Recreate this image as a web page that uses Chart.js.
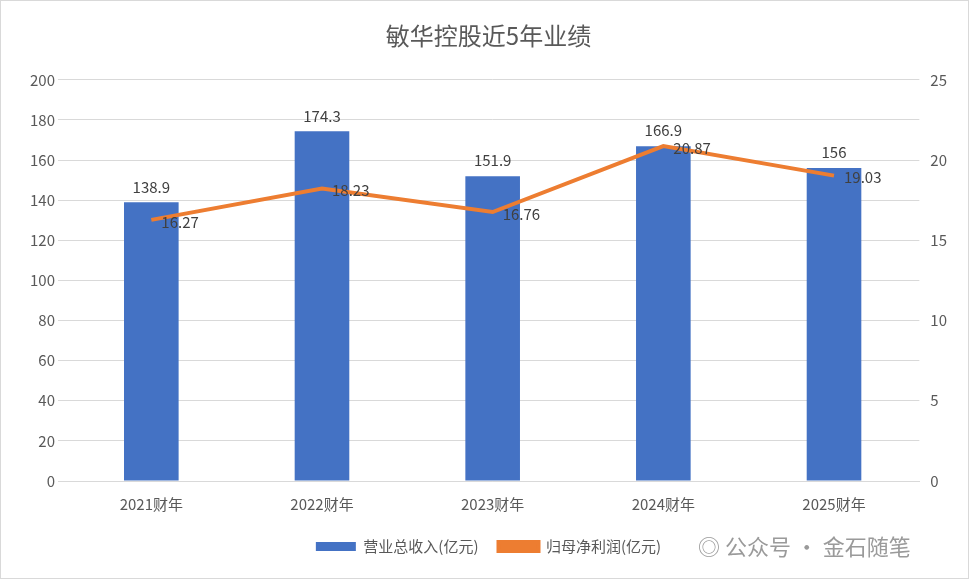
<!DOCTYPE html>
<html><head><meta charset="utf-8">
<script src="https://cdn.jsdelivr.net/npm/chart.js@4"></script>
<style>
html,body{margin:0;padding:0;background:#fff;}
#wrap{position:relative;width:967px;height:577px;border:1px solid #d9d9d9;}
#wm{position:absolute;left:697px;top:528px;font:22px "Noto Sans CJK SC";color:#9a9a9a;}
</style></head><body>
<div id="wrap"><canvas id="c" width="967" height="577"></canvas><div id="wm">◎ 公众号 · 金石随笔</div></div>
<script>
const categories=['2021财年','2022财年','2023财年','2024财年','2025财年'];
const revenue=[138.9,174.3,151.9,166.9,156];
const profit=[16.27,18.23,16.76,20.87,19.03];
const revenueLabels=['138.9','174.3','151.9','166.9','156'];
const profitLabels=['16.27','18.23','16.76','20.87','19.03'];
const F='"Noto Sans CJK SC","Noto Sans",sans-serif';
const labelPlugin={id:'lbl',afterDatasetsDraw(ch){
 const ctx=ch.ctx;ctx.save();ctx.font='15px '+F;ctx.fillStyle='#404040';
 ch.getDatasetMeta(1).data.forEach((b,i)=>{ctx.textAlign='center';ctx.textBaseline='bottom';ctx.fillText(revenueLabels[i],b.x,b.y-8);});
 ch.getDatasetMeta(0).data.forEach((p,i)=>{ctx.textAlign='left';ctx.textBaseline='middle';ctx.fillText(profitLabels[i],p.x+10,p.y+2);});
 ctx.restore();}};
new Chart(document.getElementById('c'),{
 data:{labels:categories,datasets:[
  {type:'line',label:'归母净利润(亿元)',data:profit,yAxisID:'y1',borderColor:'#ED7D31',backgroundColor:'#ED7D31',borderWidth:4,pointRadius:0,tension:0,order:0},
  {type:'bar',label:'营业总收入(亿元)',data:revenue,yAxisID:'y',backgroundColor:'#4472C4',barPercentage:0.32,categoryPercentage:1,order:1}
 ]},
 options:{responsive:false,animation:false,
  layout:{padding:{left:26,right:18,top:6,bottom:14}},
  plugins:{title:{display:true,text:'敏华控股近5年业绩',font:{family:F,size:24,weight:'normal'},color:'#595959',padding:{top:14,bottom:30}},
   legend:{position:'bottom',reverse:true,labels:{font:{family:F,size:15},color:'#595959',boxWidth:40,boxHeight:9,padding:20}},
   tooltip:{enabled:false}},
  scales:{x:{grid:{display:false},border:{color:'#d9d9d9'},ticks:{font:{family:F,size:15},color:'#595959',padding:6}},
   y:{position:'left',min:0,max:200,ticks:{stepSize:20,font:{family:F,size:15},color:'#595959'},grid:{color:'#d9d9d9'},border:{display:false}},
   y1:{position:'right',min:0,max:25,ticks:{stepSize:5,font:{family:F,size:15},color:'#595959'},grid:{display:false},border:{display:false}}}
 },plugins:[labelPlugin]});
</script></body></html>
